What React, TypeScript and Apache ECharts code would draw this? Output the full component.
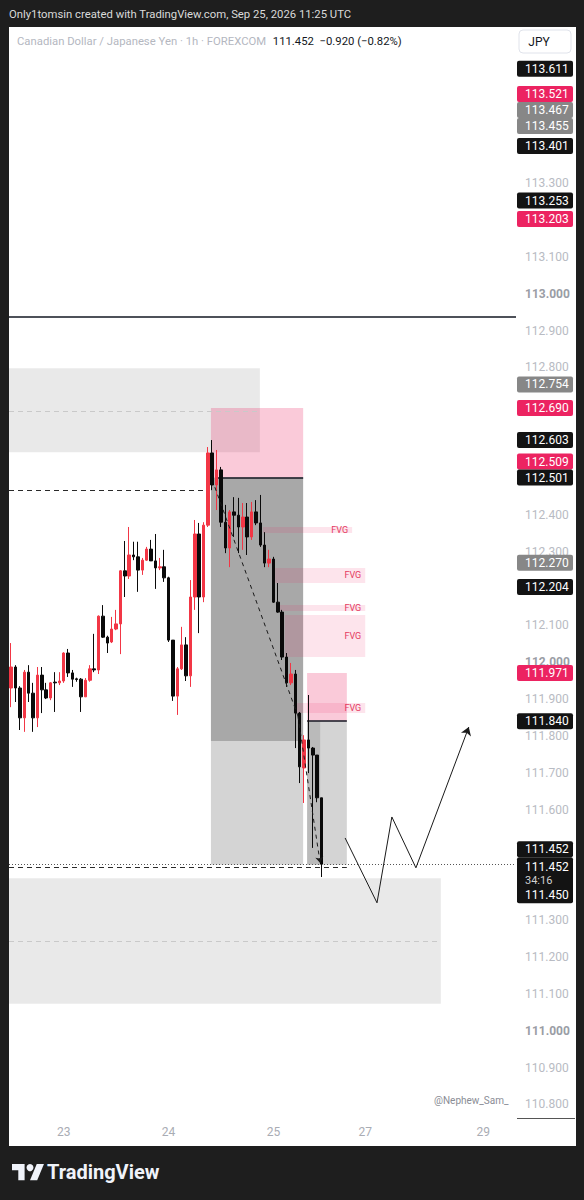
import React, { useEffect, useRef } from "react";
import * as echarts from "echarts";

// ---- time axis (hourly FX sessions, weekend closed) ----
const sessions = [
  { day: "22", from: 12, to: 23 },
  { day: "23", from: 0, to: 23 },
  { day: "24", from: 0, to: 23 },
  { day: "25", from: 0, to: 20 },
  { day: "27", from: 21, to: 23 },
  { day: "28", from: 0, to: 23 },
  { day: "29", from: 0, to: 7 },
];
const dayTickLabels = ["23", "24", "25", "27", "29"];
// visible price-scale labels (the others sit under the price badges)
const priceTicks = [
  110.8, 110.9, 111.0, 111.1, 111.2, 111.3, 111.6, 111.7, 111.8, 111.9,
  112.0, 112.1, 112.3, 112.4, 112.8, 112.9, 113.0, 113.1, 113.3,
];
const priceMin = 110.763;
const priceMax = 113.724;

// ---- CADJPY 1h candles: [open, close, low, high] ----
const candles = [
  [111.930, 111.987, 111.878, 112.052],
  [111.987, 111.930, 111.892, 111.992],
  [111.930, 111.849, 111.816, 111.935],
  [111.849, 111.973, 111.811, 111.979],
  [111.973, 111.916, 111.892, 111.992],
  [111.916, 111.849, 111.811, 111.944],
  [111.849, 111.965, 111.824, 111.987],
  [111.965, 111.925, 111.862, 111.987],
  [111.925, 111.903, 111.900, 111.944],
  [111.903, 111.944, 111.897, 111.946],
  [111.946, 111.944, 111.865, 111.973],
  [111.944, 111.949, 111.938, 111.973],
  [111.949, 112.025, 111.944, 112.027],
  [112.025, 111.971, 111.960, 112.036],
  [111.971, 111.954, 111.933, 111.979],
  [111.955, 111.953, 111.947, 111.958],
  [111.954, 111.906, 111.865, 111.957],
  [111.906, 111.951, 111.906, 111.957],
  [111.951, 111.982, 111.947, 111.992],
  [111.982, 111.979, 111.973, 112.077],
  [111.979, 112.125, 111.968, 112.127],
  [112.125, 112.068, 112.066, 112.155],
  [112.068, 112.052, 112.025, 112.072],
  [112.055, 112.090, 112.052, 112.123],
  [112.090, 112.104, 112.087, 112.142],
  [112.104, 112.248, 112.022, 112.250],
  [112.248, 112.234, 112.177, 112.329],
  [112.234, 112.291, 112.226, 112.367],
  [112.291, 112.286, 112.277, 112.327],
  [112.286, 112.250, 112.191, 112.327],
  [112.250, 112.277, 112.237, 112.283],
  [112.277, 112.307, 112.275, 112.313],
  [112.307, 112.275, 112.275, 112.332],
  [112.275, 112.256, 112.199, 112.348],
  [112.256, 112.259, 112.250, 112.283],
  [112.259, 112.229, 112.218, 112.305],
  [112.229, 112.060, 112.055, 112.232],
  [112.060, 111.908, 111.895, 112.060],
  [111.908, 111.982, 111.857, 111.987],
  [111.982, 112.047, 111.979, 112.096],
  [112.047, 111.963, 111.949, 112.068],
  [111.963, 112.177, 111.933, 112.223],
  [112.177, 112.348, 112.142, 112.386],
  [112.348, 112.177, 112.079, 112.378],
  [112.177, 112.372, 112.163, 112.380],
  [112.372, 112.568, 112.367, 112.584],
  [112.568, 112.481, 112.467, 112.603],
  [112.481, 112.522, 112.413, 112.576],
  [112.522, 112.380, 112.367, 112.530],
  [112.380, 112.310, 112.296, 112.427],
  [112.310, 112.408, 112.258, 112.413],
  [112.408, 112.399, 112.340, 112.448],
  [112.399, 112.367, 112.296, 112.446],
  [112.367, 112.394, 112.305, 112.432],
  [112.394, 112.340, 112.291, 112.432],
  [112.340, 112.408, 112.332, 112.435],
  [112.408, 112.378, 112.372, 112.440],
  [112.378, 112.318, 112.313, 112.454],
  [112.318, 112.269, 112.258, 112.353],
  [112.269, 112.280, 112.258, 112.305],
  [112.280, 112.163, 112.161, 112.286],
  [112.163, 112.136, 112.134, 112.215],
  [112.136, 112.014, 112.006, 112.142],
  [112.014, 111.944, 111.933, 112.025],
  [111.944, 111.968, 111.938, 111.998],
  [111.968, 111.862, 111.767, 111.979],
  [111.862, 111.716, 111.672, 111.865],
  [111.713, 111.789, 111.618, 111.802],
  [111.789, 111.767, 111.699, 111.911],
  [111.767, 111.748, 111.496, 111.770],
  [111.748, 111.632, 111.620, 111.748],
  [111.632, 111.452, 111.417, 111.632],
];

// ---- drawings (x in bar index units, y in price) ----
const zoneBoxes = [
  { x: [-0.5, 56.9], y: [112.798, 112.570], kind: "zone" },
  { x: [-0.5, 98.3], y: [111.414, 111.073], kind: "zone" },
  { x: [45.7, 66.8], y: [112.501, 111.786], kind: "dark" },
  { x: [45.7, 66.8], y: [111.786, 111.450], kind: "light" },
  { x: [67.7, 76.8], y: [111.840, 111.450], kind: "light" },
  { x: [67.7, 70.7], y: [111.840, 111.450], kind: "mid" },
  { x: [45.7, 66.8], y: [112.690, 112.501], kind: "pink" },
  { x: [67.7, 76.8], y: [111.971, 111.840], kind: "pink" },
];
const fvgBoxes = [
  { x: [57.6, 78.0], y: [112.367, 112.351] },
  { x: [60.4, 81.0], y: [112.256, 112.215] },
  { x: [61.5, 81.0], y: [112.155, 112.139] },
  { x: [62.6, 81.0], y: [112.128, 112.014] },
  { x: [65.4, 81.0], y: [111.889, 111.862] },
];
const hLines = [
  { x: [-0.5, 115.5], y: 112.937, kind: "solid" },
  { x: [-0.5, 45.5], y: 112.467, kind: "dashed" },
  { x: [47.3, 66.8], y: 112.501, kind: "solid" },
  { x: [67.7, 76.8], y: 111.840, kind: "solid" },
  { x: [-0.5, 56.9], y: 112.682, kind: "greyDashed" },
  { x: [-0.5, 98.3], y: 111.243, kind: "greyDashed" },
  { x: [-0.5, 76.8], y: 111.444, kind: "dashed" },
  { x: [-0.5, 115.5], y: 111.452, kind: "dotted" },
];
const diagonalPath = [[46.6, 112.475], [65.6, 111.854], [70.7, 111.455]];
const projectionPath = [[76.4, 111.523], [83.7, 111.347], [87.1, 111.58], [92.6, 111.442], [104.7, 111.824]];

// ---- price scale badges ----
const badgePrices = [113.611, 113.521, 113.467, 113.455, 113.401, 113.253, 113.203, 112.754, 112.69, 112.603, 112.509, 112.501, 112.27, 112.204, 111.971, 111.84];
const badgeKinds = ["black", "pink", "grey", "grey", "black", "black", "pink", "grey", "pink", "black", "pink", "black", "grey", "black", "pink", "black"];
const lastPrice = 111.452;
const lastLow = 111.45;
const countdown = "34:16";

const headerText = "Only1tomsin created with TradingView.com, Sep 25, 2026 11:25 UTC";
const symbolTitle = "Canadian Dollar / Japanese Yen · 1h · FOREXCOM";
const quoteText = "111.452  −0.920 (−0.82%)";
const watermark = "@Nephew_Sam_";

const FONT = "Roboto, 'Noto Sans', sans-serif";
const BADGE_COLORS: Record<string, string> = { black: "#131313", pink: "#ec2361", grey: "#878787" };
const ZONE_COLORS: Record<string, string> = {
  zone: "rgba(0,0,0,0.085)",
  dark: "rgba(0,0,0,0.34)",
  light: "rgba(0,0,0,0.17)",
  mid: "rgba(0,0,0,0.12)",
  pink: "rgba(236,35,97,0.24)",
};

export default function App() {
  const ref = useRef<HTMLDivElement>(null);
  useEffect(() => {
    if (!ref.current) return;
    const chart = echarts.init(ref.current, null, { renderer: "svg" });

    const categories: string[] = [];
    sessions.forEach((s) => {
      for (let h = s.from; h <= s.to; h++) categories.push(`${s.day} ${String(h).padStart(2, "0")}:00`);
    });
    const tickIdx = new Set<number>();
    categories.forEach((c, i) => {
      const d = c.split(" ")[0];
      if (i > 0 && categories[i - 1].split(" ")[0] !== d && dayTickLabels.includes(d)) tickIdx.add(i);
    });

    const areaData: any[] = [];
    zoneBoxes.forEach((b) => {
      areaData.push([
        { coord: [b.x[0], b.y[0]], itemStyle: { color: ZONE_COLORS[b.kind] } },
        { coord: [b.x[1], b.y[1]] },
      ]);
    });
    fvgBoxes.forEach((b) => {
      areaData.push([
        {
          coord: [b.x[0], b.y[0]],
          itemStyle: { color: "rgba(236,35,97,0.12)" },
          label: { show: true, position: "insideRight", formatter: "FVG", color: "#e4395f", fontSize: 9, fontFamily: FONT, distance: 4 },
        },
        { coord: [b.x[1], b.y[1]] },
      ]);
    });

    const lineStyles: Record<string, any> = {
      solid: { color: "#131722", width: 1.5, type: "solid" },
      dashed: { color: "#2a2a2a", width: 1, type: [5, 4] },
      greyDashed: { color: "#c9c9c9", width: 1, type: [5, 4] },
      dotted: { color: "#555", width: 1, type: [1, 2] },
    };
    const lineData = hLines.map((l) => [
      { coord: [l.x[0], l.y], lineStyle: lineStyles[l.kind] },
      { coord: [l.x[1], l.y] },
    ]);

    const segs = (pts: number[][]) => {
      const out: any[] = [];
      for (let i = 0; i < pts.length - 1; i++) out.push({ coords: [pts[i], pts[i + 1]] });
      return out;
    };
    const diagSegs = segs(diagonalPath);
    const projSegs = segs(projectionPath);

    const option: any = {
      animation: false,
      backgroundColor: "#1e1e1e",
      grid: { left: 9, right: 68, top: 27, bottom: 82 },
      xAxis: [
        {
          type: "category",
          data: categories,
          boundaryGap: true,
          axisLine: { show: false },
          axisTick: { show: false },
          splitLine: { show: false },
          axisLabel: {
            interval: (i: number) => tickIdx.has(i),
            formatter: (v: string) => v.split(" ")[0],
            color: "#a9acb4",
            fontSize: 12,
            fontFamily: FONT,
            margin: 8,
          },
        },
        { type: "value", min: -0.5, max: categories.length - 0.5, show: false },
      ],
      yAxis: {
        type: "value",
        position: "right",
        min: priceMin,
        max: priceMax,
        splitLine: { show: false },
        axisLine: { show: false },
        axisTick: { show: false },
        axisLabel: {
          customValues: priceTicks,
          margin: 9,
          color: "#b8bbc3",
          fontSize: 12,
          fontFamily: FONT,
          formatter: (v: number) => {
            const s = v.toFixed(3);
            return Math.abs(v - Math.round(v)) < 1e-6 ? `{b|${s}}` : s;
          },
          rich: { b: { fontWeight: "bold", color: "#9a9da5", fontSize: 12, fontFamily: FONT } },
        },
      },
      series: [
        {
          type: "line",
          xAxisIndex: 1,
          yAxisIndex: 0,
          data: [],
          z: 1,
          silent: true,
          markArea: { silent: true, label: { show: false }, data: areaData },
          markLine: { silent: true, symbol: ["none", "none"], label: { show: false }, data: lineData },
        },
        {
          type: "candlestick",
          xAxisIndex: 0,
          yAxisIndex: 0,
          data: candles,
          barWidth: 3,
          z: 5,
          silent: true,
          itemStyle: { color: "#f23645", color0: "#0a0a0a", borderColor: "#f23645", borderColor0: "#0a0a0a", borderWidth: 1 },
        },
        {
          type: "lines",
          coordinateSystem: "cartesian2d",
          xAxisIndex: 1,
          yAxisIndex: 0,
          z: 6,
          silent: true,
          symbol: ["none", "none"],
          lineStyle: { color: "#1a1a1a", width: 1, type: [4, 4], opacity: 1 },
          data: diagSegs.slice(0, -1),
        },
        {
          type: "lines",
          coordinateSystem: "cartesian2d",
          xAxisIndex: 1,
          yAxisIndex: 0,
          z: 6,
          silent: true,
          symbol: ["none", "arrow"],
          symbolSize: 6,
          lineStyle: { color: "#1a1a1a", width: 1, type: [4, 4], opacity: 1 },
          data: diagSegs.slice(-1),
        },
        {
          type: "lines",
          coordinateSystem: "cartesian2d",
          xAxisIndex: 1,
          yAxisIndex: 0,
          z: 6,
          silent: true,
          symbol: ["none", "none"],
          lineStyle: { color: "#1a1a1a", width: 1, opacity: 1 },
          data: projSegs.slice(0, -1),
        },
        {
          type: "lines",
          coordinateSystem: "cartesian2d",
          xAxisIndex: 1,
          yAxisIndex: 0,
          z: 6,
          silent: true,
          symbol: ["none", "arrow"],
          symbolSize: 8,
          lineStyle: { color: "#1a1a1a", width: 1, opacity: 1 },
          data: projSegs.slice(-1),
        },
      ],
    };
    chart.setOption(option);

    // badges placed via the y scale, pushed apart bottom-up like the price scale does
    const yPix = (v: number) => chart.convertToPixel({ yAxisIndex: 0 }, v) as number;
    const items = badgePrices.map((p, i) => ({ p, kind: badgeKinds[i], y: yPix(p) }));
    const ordered = [...items].sort((a, b) => b.y - a.y);
    let prev = Infinity;
    ordered.forEach((it) => {
      it.y = Math.min(it.y, prev - 16);
      prev = it.y;
    });

    const g: any[] = [
      { type: "rect", z: -50, shape: { x: 9, y: 27, width: 567, height: 1119 }, style: { fill: "#ffffff" } },
      { type: "text", z: 10, x: 9, y: 14, style: { text: headerText, fill: "#dadada", fontSize: 11.3, fontFamily: FONT, verticalAlign: "middle" } },
      {
        type: "text", z: 10, x: 17, y: 41,
        style: {
          text: `{a|${symbolTitle}}  {b|${quoteText}}`,
          verticalAlign: "middle",
          rich: {
            a: { fill: "#b4b7bf", fontSize: 11.3, fontFamily: FONT },
            b: { fill: "#131722", fontSize: 11.3, fontFamily: FONT },
          },
        },
      },
      { type: "rect", z: 90, shape: { x: 519, y: 30, width: 52, height: 23, r: 4 }, style: { fill: "#ffffff", stroke: "#e0e3eb", lineWidth: 1 } },
      { type: "text", z: 91, x: 539, y: 42, style: { text: "JPY", fill: "#131722", fontSize: 12, fontFamily: FONT, align: "center", verticalAlign: "middle" } },
      { type: "line", z: 10, shape: { x1: 517, y1: 1118.5, x2: 575, y2: 1118.5 }, style: { stroke: "#555", lineWidth: 1 } },
      { type: "text", z: 10, x: 434, y: 1100, style: { text: watermark, fill: "#8a8d95", fontSize: 10, fontFamily: FONT, verticalAlign: "middle" } },
      {
        type: "polygon", z: 10,
        shape: { points: [[12, 1164], [24.6, 1164], [24.6, 1180.2], [18.3, 1180.2], [18.3, 1170.3], [12, 1170.3]] },
        style: { fill: "#f0f3fa" },
      },
      { type: "circle", z: 10, shape: { cx: 30, cy: 1167.6, r: 3.5 }, style: { fill: "#f0f3fa" } },
      {
        type: "polygon", z: 10,
        shape: { points: [[36.75, 1164], [43.95, 1164], [37.2, 1180.2], [30, 1180.2]] },
        style: { fill: "#f0f3fa" },
      },
      { type: "text", z: 10, x: 47, y: 1172, style: { text: "TradingView", fill: "#f0f3fa", fontSize: 20, fontWeight: "bold", fontFamily: FONT, verticalAlign: "middle" } },
    ];
    items.forEach((it) => {
      g.push({ type: "rect", z: 100, shape: { x: 517, y: it.y - 8, width: 56, height: 16, r: 2 }, style: { fill: BADGE_COLORS[it.kind] } });
      g.push({ type: "text", z: 101, x: 525, y: it.y, style: { text: it.p.toFixed(3), fill: "#ffffff", fontSize: 12, fontFamily: FONT, verticalAlign: "middle" } });
    });
    const ly = yPix(lastPrice);
    g.push({ type: "rect", z: 100, shape: { x: 517, y: ly - 23, width: 56, height: 16, r: 2 }, style: { fill: BADGE_COLORS.black } });
    g.push({ type: "text", z: 101, x: 525, y: ly - 15, style: { text: lastPrice.toFixed(3), fill: "#ffffff", fontSize: 12, fontFamily: FONT, verticalAlign: "middle" } });
    g.push({ type: "rect", z: 100, shape: { x: 517, y: ly - 7, width: 56, height: 46, r: 2 }, style: { fill: BADGE_COLORS.black } });
    g.push({ type: "text", z: 101, x: 525, y: ly + 3, style: { text: lastPrice.toFixed(3), fill: "#ffffff", fontSize: 12, fontFamily: FONT, verticalAlign: "middle" } });
    g.push({ type: "text", z: 101, x: 525, y: ly + 16, style: { text: countdown, fill: "#d0d0d0", fontSize: 11, fontFamily: FONT, verticalAlign: "middle" } });
    g.push({ type: "text", z: 101, x: 525, y: ly + 31, style: { text: lastLow.toFixed(3), fill: "#ffffff", fontSize: 12, fontFamily: FONT, verticalAlign: "middle" } });

    chart.setOption({ graphic: { elements: g } });

    return () => chart.dispose();
  }, []);

  return (
    <div
      ref={ref}
      style={{ position: "fixed", left: 0, top: 0, width: 584, height: 1200, background: "#1e1e1e" }}
    />
  );
}
